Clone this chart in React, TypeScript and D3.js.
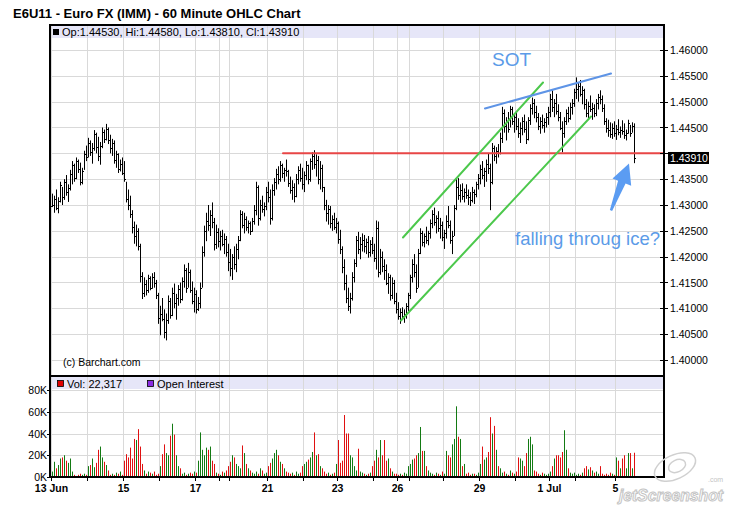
import * as d3 from "d3";
import { useEffect } from "react";

// E6U11 hourly bars. Prices are in pips above 1.40000 (1 pip = 0.0001).
const highs = [
  322, 318, 330, 315, 345, 335, 350, 358, 340, 368,
  385, 380, 392, 388, 382, 372, 405, 415, 430, 425,
  420, 445, 440, 432, 422, 450, 446, 457, 450, 436,
  428, 425, 405, 400, 388, 392, 385, 345, 330, 318,
  290, 268, 262, 255, 225, 170, 160, 155, 165, 162,
  168, 170, 155, 130, 105, 120, 98, 90, 125, 120,
  140, 148, 128, 145, 150, 160, 185, 178, 188, 175,
  152, 140, 135, 122, 150, 220, 260, 285, 300, 290,
  305, 275, 262, 255, 250, 252, 245, 240, 225, 215,
  205, 220, 225, 240, 290, 288, 285, 278, 270, 268,
  275, 300, 345, 338, 310, 318, 305, 335, 345, 330,
  340, 352, 370, 375, 385, 380, 372, 388, 368, 355,
  348, 342, 360, 375, 380, 372, 365, 385, 378, 390,
  402, 406, 398, 395, 385, 378, 335, 310, 300, 298,
  280, 285, 275, 268, 252, 220, 195, 165, 140, 130,
  170, 195, 240, 248, 238, 245, 242, 235, 240, 232,
  238, 225, 270, 268, 215, 210, 195, 185, 168, 165,
  160, 155, 130, 112, 100, 102, 98, 110, 130, 165,
  195, 205, 185, 215, 255, 250, 245, 258, 250, 272,
  290, 295, 280, 288, 275, 268, 252, 280, 298, 270,
  250, 300, 350, 352, 340, 342, 332, 340, 330, 325,
  335, 330, 345, 360, 378, 385, 372, 388, 400, 380,
  420, 415, 412, 418, 440, 490, 485, 470, 480, 492,
  490, 478, 482, 468, 460, 470, 475, 462, 470, 495,
  508, 505, 492, 478, 470, 475, 468, 478, 490, 515,
  522, 505, 515, 495, 480, 462, 470, 485, 490, 498,
  505, 525, 547, 538, 542, 530, 525, 505, 500, 512,
  498, 495, 505, 515, 522, 512, 495, 468, 465, 460,
  458, 462, 455, 466, 452, 464, 458, 446, 465, 455,
  460, 458,
];
const lows = [
  296, 285, 290, 284, 305, 300, 310, 318, 306, 328,
  340, 345, 350, 362, 338, 340, 368, 385, 392, 395,
  380, 405, 400, 385, 378, 410, 420, 425, 418, 400,
  395, 380, 372, 362, 365, 358, 345, 305, 290, 275,
  245, 225, 220, 212, 150, 118, 122, 125, 130, 135,
  138, 140, 118, 70, 48, 75, 42, 38, 70, 80,
  85, 100, 78, 105, 110, 115, 140, 130, 140, 130,
  108, 92, 90, 95, 100, 140, 200, 230, 250, 240,
  255, 212, 215, 218, 212, 220, 205, 200, 172, 162,
  155, 175, 170, 195, 230, 255, 245, 250, 245, 242,
  248, 262, 280, 260, 270, 285, 278, 290, 305, 262,
  270, 318, 330, 340, 345, 352, 345, 355, 335, 322,
  310, 305, 315, 340, 345, 330, 325, 348, 340, 345,
  368, 370, 355, 340, 330, 325, 290, 268, 262, 255,
  250, 252, 245, 225, 205, 168, 135, 110, 95, 90,
  115, 150, 180, 205, 195, 210, 208, 205, 198, 200,
  205, 190, 175, 160, 165, 170, 155, 145, 128, 115,
  118, 108, 90, 78, 70, 78, 72, 80, 95, 118,
  150, 160, 130, 140, 205, 220, 218, 225, 222, 235,
  255, 260, 245, 248, 235, 230, 215, 235, 255, 225,
  205, 240, 290, 310, 305, 310, 305, 312, 300, 298,
  305, 302, 315, 330, 340, 350, 335, 345, 360, 290,
  340, 385, 380, 392, 398, 420, 440, 425, 440, 450,
  455, 440, 445, 430, 420, 435, 440, 418, 425, 455,
  475, 468, 460, 445, 438, 448, 440, 450, 455, 470,
  480, 470, 475, 462, 445, 402, 430, 455, 460, 465,
  475, 490, 505, 500, 510, 495, 485, 470, 468, 480,
  465, 470, 472, 485, 495, 480, 455, 440, 432, 430,
  428, 432, 426, 435, 430, 436, 428, 425, 438, 432,
  440, 381,
];
const closes = [
  300, 312, 295, 308, 338, 315, 345, 325, 332, 360,
  378, 352, 385, 370, 345, 365, 398, 392, 420, 402,
  410, 438, 412, 395, 415, 442, 428, 448, 425, 410,
  420, 388, 398, 370, 380, 362, 350, 312, 300, 282,
  258, 240, 250, 220, 162, 130, 148, 135, 158, 140,
  160, 150, 125, 82, 90, 80, 55, 78, 115, 88,
  130, 110, 120, 138, 118, 152, 175, 140, 170, 135,
  115, 128, 98, 110, 140, 210, 250, 270, 262, 280,
  268, 225, 248, 230, 240, 225, 235, 210, 190, 178,
  200, 185, 215, 232, 282, 262, 272, 258, 265, 250,
  270, 290, 335, 275, 300, 292, 298, 325, 315, 275,
  330, 345, 360, 350, 378, 362, 368, 365, 342, 330,
  335, 318, 350, 368, 352, 340, 358, 378, 350, 385,
  395, 380, 388, 350, 372, 335, 300, 285, 292, 265,
  272, 258, 265, 235, 215, 180, 150, 120, 105, 120,
  160, 188, 232, 215, 225, 232, 220, 228, 210, 225,
  212, 198, 255, 170, 200, 182, 175, 150, 160, 125,
  150, 115, 98, 85, 92, 85, 90, 105, 125, 160,
  185, 170, 140, 208, 245, 228, 240, 232, 245, 265,
  282, 268, 275, 255, 262, 238, 245, 270, 262, 232,
  240, 295, 335, 320, 330, 318, 325, 320, 315, 310,
  325, 322, 340, 352, 370, 358, 365, 380, 372, 345,
  410, 395, 405, 400, 430, 478, 452, 460, 448, 485,
  462, 470, 452, 440, 450, 462, 448, 428, 465, 488,
  498, 480, 470, 452, 462, 455, 460, 470, 480, 505,
  490, 498, 482, 470, 450, 440, 462, 478, 468, 490,
  498, 518, 525, 530, 515, 522, 495, 478, 492, 485,
  488, 478, 498, 510, 505, 488, 462, 450, 445, 438,
  450, 440, 448, 442, 446, 444, 435, 440, 458, 440,
  453, 391,
];
const firstOpen = 298; // each later bar opens at the previous close

// volume per bar, thousands of contracts
const volumes = [
  5, 14, 8, 11, 17, 18, 20, 15, 13, 17,
  5, 2, 1, 2, 3, 2, 3, 2, 10, 11,
  17, 9, 13, 25, 28, 18, 14, 11, 6, 2,
  3, 2, 4, 3, 5, 2, 15, 21, 18, 27,
  17, 35, 34, 44, 28, 12, 6, 3, 5, 4,
  3, 5, 2, 3, 10, 21, 30, 22, 20, 38,
  49, 39, 20, 10, 8, 3, 4, 2, 3, 4,
  3, 5, 4, 15, 41, 25, 20, 27, 25, 28,
  15, 12, 4, 3, 2, 5, 4, 6, 10, 14,
  20, 18, 12, 10, 8, 29, 22, 12, 8, 6,
  4, 3, 5, 3, 8, 6, 3, 4, 10, 13,
  17, 22, 25, 20, 14, 12, 8, 5, 4, 3,
  4, 2, 5, 3, 4, 10, 12, 14, 16, 18,
  23, 41, 20, 21, 10, 8, 5, 3, 4, 2,
  3, 4, 12, 34, 13, 15, 57, 40, 40, 20,
  18, 10, 6, 26, 5, 4, 3, 2, 3, 4,
  10, 15, 25, 18, 34, 20, 34, 15, 17, 8,
  5, 3, 3, 2, 3, 2, 4, 3, 10, 12,
  16, 17, 20, 22, 46, 24, 24, 10, 6, 4,
  3, 2, 4, 3, 2, 5, 3, 24, 20, 18,
  30, 35, 65, 37, 35, 10, 12, 3, 4, 2,
  3, 3, 2, 4, 12, 28, 16, 18, 23, 55,
  40, 47, 25, 10, 8, 4, 5, 3, 2, 6,
  4, 3, 5, 18, 17, 15, 10, 22, 35, 37,
  30, 6, 5, 3, 2, 4, 3, 2, 3, 5,
  10, 17, 20, 20, 18, 23, 43, 25, 8, 4,
  3, 4, 2, 3, 2, 4, 8, 10, 7, 9,
  6, 4, 5, 3, 10, 3, 2, 3, 2, 4,
  3, 2, 18, 15, 8, 17, 20, 8, 22, 22,
  8, 22.317,
];

// first bar of each session and its axis label
const dayStarts = [0, 18, 36, 54, 72, 84, 89, 108, 126, 143, 161, 173, 179, 196, 214, 232, 249, 262, 282];
const dayLabels = ["13 Jun", "", "15", "", "17", "", "", "21", "", "23", "", "26", "", "", "29", "", "1 Jul", "", "5"];

const priceTicks = [1.4, 1.405, 1.41, 1.415, 1.42, 1.425, 1.43, 1.435, 1.44, 1.445, 1.45, 1.455, 1.46];
const volumeTicks = [0, 20, 40, 60, 80];
const lastPrice = 1.4391;
const legendText = "Op:1.44530, Hi:1.44580, Lo:1.43810, Cl:1.43910";
const volumeText = "Vol: 22,317";

// hand drawn annotations, as [bar index, price]
const iceLine = [[115.5, 1.44], [306, 1.44]];
const channelTop = [[175.5, 1.42371], [245.5, 1.45371]];
const channelBottom = [[174.5, 1.40765], [269.5, 1.44713]];
const sotLine = [[216.5, 1.44868], [279.5, 1.45545]];
const arrowTail = [279.5, 1.42894];
const arrowTip = [288.5, 1.43803];

const font = "'Liberation Sans', Arial, sans-serif";

export default function App() {
  useEffect(() => {
    document.body.style.margin = "0";
  }, []);

  const x = d3.scaleLinear().domain([0, highs.length - 1]).range([52, 634]);
  const yP = d3.scaleLinear().domain([1.4, 1.46]).range([360, 50]);
  const yV = d3.scaleLinear().domain([0, 80]).range([477, 390]);
  const price = (p: number) => 1.4 + p / 10000;

  const left = 50, right = 664;
  const gridX = dayStarts.map(d => Math.round(x(d - 0.5)) + 0.5);

  const bars = highs.map((h, i) => {
    const open = i === 0 ? firstOpen : closes[i - 1];
    return {
      x: Math.round(x(i)),
      hi: yP(price(h)),
      lo: yP(price(lows[i])),
      op: Math.round(yP(price(open))),
      cl: Math.round(yP(price(closes[i]))),
      up: closes[i] >= open,
    };
  });

  const seg = (pts: number[][]) => ({
    x1: x(pts[0][0]), y1: yP(pts[0][1]), x2: x(pts[1][0]), y2: yP(pts[1][1]),
  });

  // arrow polygon built around the tail→tip direction
  const ax = x(arrowTail[0]), ay = yP(arrowTail[1]);
  const bx = x(arrowTip[0]), by = yP(arrowTip[1]);
  const len = Math.hypot(bx - ax, by - ay);
  const ux = (bx - ax) / len, uy = (by - ay) / len;
  const nx = -uy, ny = ux;
  const head = 20;
  const hx = bx - ux * head, hy = by - uy * head;
  const arrowPts = [
    [bx, by],
    [hx + nx * 10, hy + ny * 10],
    [hx + nx * 4, hy + ny * 4],
    [ax + nx * 1.2, ay + ny * 1.2],
    [ax - nx * 1.2, ay - ny * 1.2],
    [hx - nx * 4, hy - ny * 4],
    [hx - nx * 10, hy - ny * 10],
  ].map(p => p.join(",")).join(" ");

  const grid = "#d9d9d9";
  const lastY = yP(lastPrice);

  return (
    <svg width={730} height={507} style={{ position: "absolute", left: 0, top: 0, background: "#fff" }} fontFamily={font}>
      <defs>
        <clipPath id="pricePanel">
          <rect x={left} y={25} width={right - left} height={350} />
        </clipPath>
      </defs>

      <text x={13} y={18} fontSize={13} fontWeight="bold">E6U11 - Euro FX (IMM) - 60 Minute OHLC Chart</text>

      {/* price panel */}
      <rect x={left} y={25} width={right - left} height={351} fill="#fff" />
      <rect x={left} y={26} width={right - left} height={12} fill="#e6e6f8" />
      {priceTicks.map(t => (
        <line key={t} x1={left} x2={right} y1={Math.round(yP(t)) + 0.5} y2={Math.round(yP(t)) + 0.5} stroke={grid} />
      ))}
      {gridX.map((gx, i) => (
        <line key={i} x1={gx} x2={gx} y1={26} y2={375} stroke={grid} />
      ))}
      <rect x={53} y={29} width={6} height={6} fill="#000" />
      <text x={62} y={35.5} fontSize={11}>{legendText}</text>

      <g clipPath="url(#pricePanel)" fill="#000">
        {bars.map((b, i) => (
          <g key={i}>
            <rect x={b.x} y={b.hi} width={1} height={Math.max(1, b.lo - b.hi)} />
            <rect x={b.x - 1} y={b.op} width={1} height={1} />
            <rect x={b.x + 1} y={b.cl} width={1} height={1} />
          </g>
        ))}
      </g>

      <text x={63} y={366} fontSize={10.5}>(c) Barchart.com</text>

      {/* annotations */}
      <g clipPath="url(#pricePanel)" strokeLinecap="round">
        <line {...seg(iceLine)} stroke="#e84646" strokeWidth={2} />
        <line {...seg(channelTop)} stroke="#4cc84c" strokeWidth={2} />
        <line {...seg(channelBottom)} stroke="#4cc84c" strokeWidth={2} />
        <line {...seg(sotLine)} stroke="#5e94e6" strokeWidth={2} />
      </g>
      <polygon points={arrowPts} fill="#5b9cf2" />
      <text x={x(220)} y={yP(1.457)} fontSize={19} fill="#5b9be8">SOT</text>
      <text x={x(231.5)} y={yP(1.4222)} fontSize={18.5} fill="#5b9be8">falling throug ice?</text>

      {/* right price axis */}
      {priceTicks.map(t => (
        <g key={t}>
          <line x1={660} x2={668} y1={Math.round(yP(t)) + 0.5} y2={Math.round(yP(t)) + 0.5} stroke="#000" />
          {Math.abs(yP(t) - lastY) > 10 && (
            <text x={670} y={yP(t) + 4} fontSize={10.5}>{t.toFixed(5)}</text>
          )}
        </g>
      ))}
      <rect x={668} y={lastY - 6} width={41} height={12} fill="#000" />
      <text x={670} y={lastY + 4} fontSize={10.5} fill="#fff">{lastPrice.toFixed(5)}</text>

      {/* volume panel */}
      <rect x={left} y={376} width={right - left} height={101} fill="#fff" />
      <rect x={left} y={377} width={right - left} height={12} fill="#e6e6f8" />
      {volumeTicks.slice(1).map(t => (
        <line key={t} x1={left} x2={right} y1={Math.round(yV(t)) + 0.5} y2={Math.round(yV(t)) + 0.5} stroke={grid} />
      ))}
      {gridX.map((gx, i) => (
        <line key={i} x1={gx} x2={gx} y1={377} y2={477} stroke={grid} />
      ))}
      <rect x={57.5} y={380.5} width={6} height={6} fill="#e00000" stroke="#000" strokeWidth={0.8} />
      <text x={67} y={387.5} fontSize={11}>{volumeText}</text>
      <rect x={147.5} y={380.5} width={6} height={6} fill="#8a2be2" stroke="#000" strokeWidth={0.8} />
      <text x={157} y={387.5} fontSize={11}>Open Interest</text>

      {volumes.map((v, i) => (
        <rect key={i} x={bars[i].x} y={yV(v)} width={1} height={yV(0) - yV(v)} fill={bars[i].up ? "#137a13" : "#e01010"} />
      ))}

      {volumeTicks.map(t => (
        <g key={t}>
          <line x1={47} x2={left} y1={Math.round(yV(t)) + 0.5} y2={Math.round(yV(t)) + 0.5} stroke="#000" />
          <text x={47} y={yV(t) + 4} fontSize={10.5} textAnchor="end">{t}K</text>
        </g>
      ))}

      {/* time axis */}
      {gridX.map((gx, i) => (
        <line key={i} x1={gx} x2={gx} y1={477} y2={481} stroke="#000" />
      ))}
      {dayLabels.map((lab, i) => lab && (
        <text key={i} x={gridX[i]} y={492} fontSize={10.5} fontWeight="bold" textAnchor="middle">{lab}</text>
      ))}

      {/* panel frames */}
      <rect x={left} y={25} width={right - left} height={351} fill="none" stroke="#000" strokeWidth={2} />
      <rect x={left} y={376} width={right - left} height={101} fill="none" stroke="#000" strokeWidth={2} />

      {/* screenshot tool watermark */}
      <g fill="none" stroke="#d0d0d0" strokeWidth={1.5}>
        <ellipse cx={675} cy={467} rx={22} ry={12} transform="rotate(-25 675 467)" />
        <ellipse cx={677} cy={466} rx={9} ry={6} transform="rotate(-25 677 466)" />
      </g>
      <text x={619} y={501} fontSize={16} fontStyle="italic" fontWeight="bold" fill="#fff" stroke="#c4c4c4" strokeWidth={1}
        textLength={104} lengthAdjust="spacingAndGlyphs">jetScreenshot</text>
      <text x={708} y={482} fontSize={7} fill="#c4c4c4">.com</text>
    </svg>
  );
}
